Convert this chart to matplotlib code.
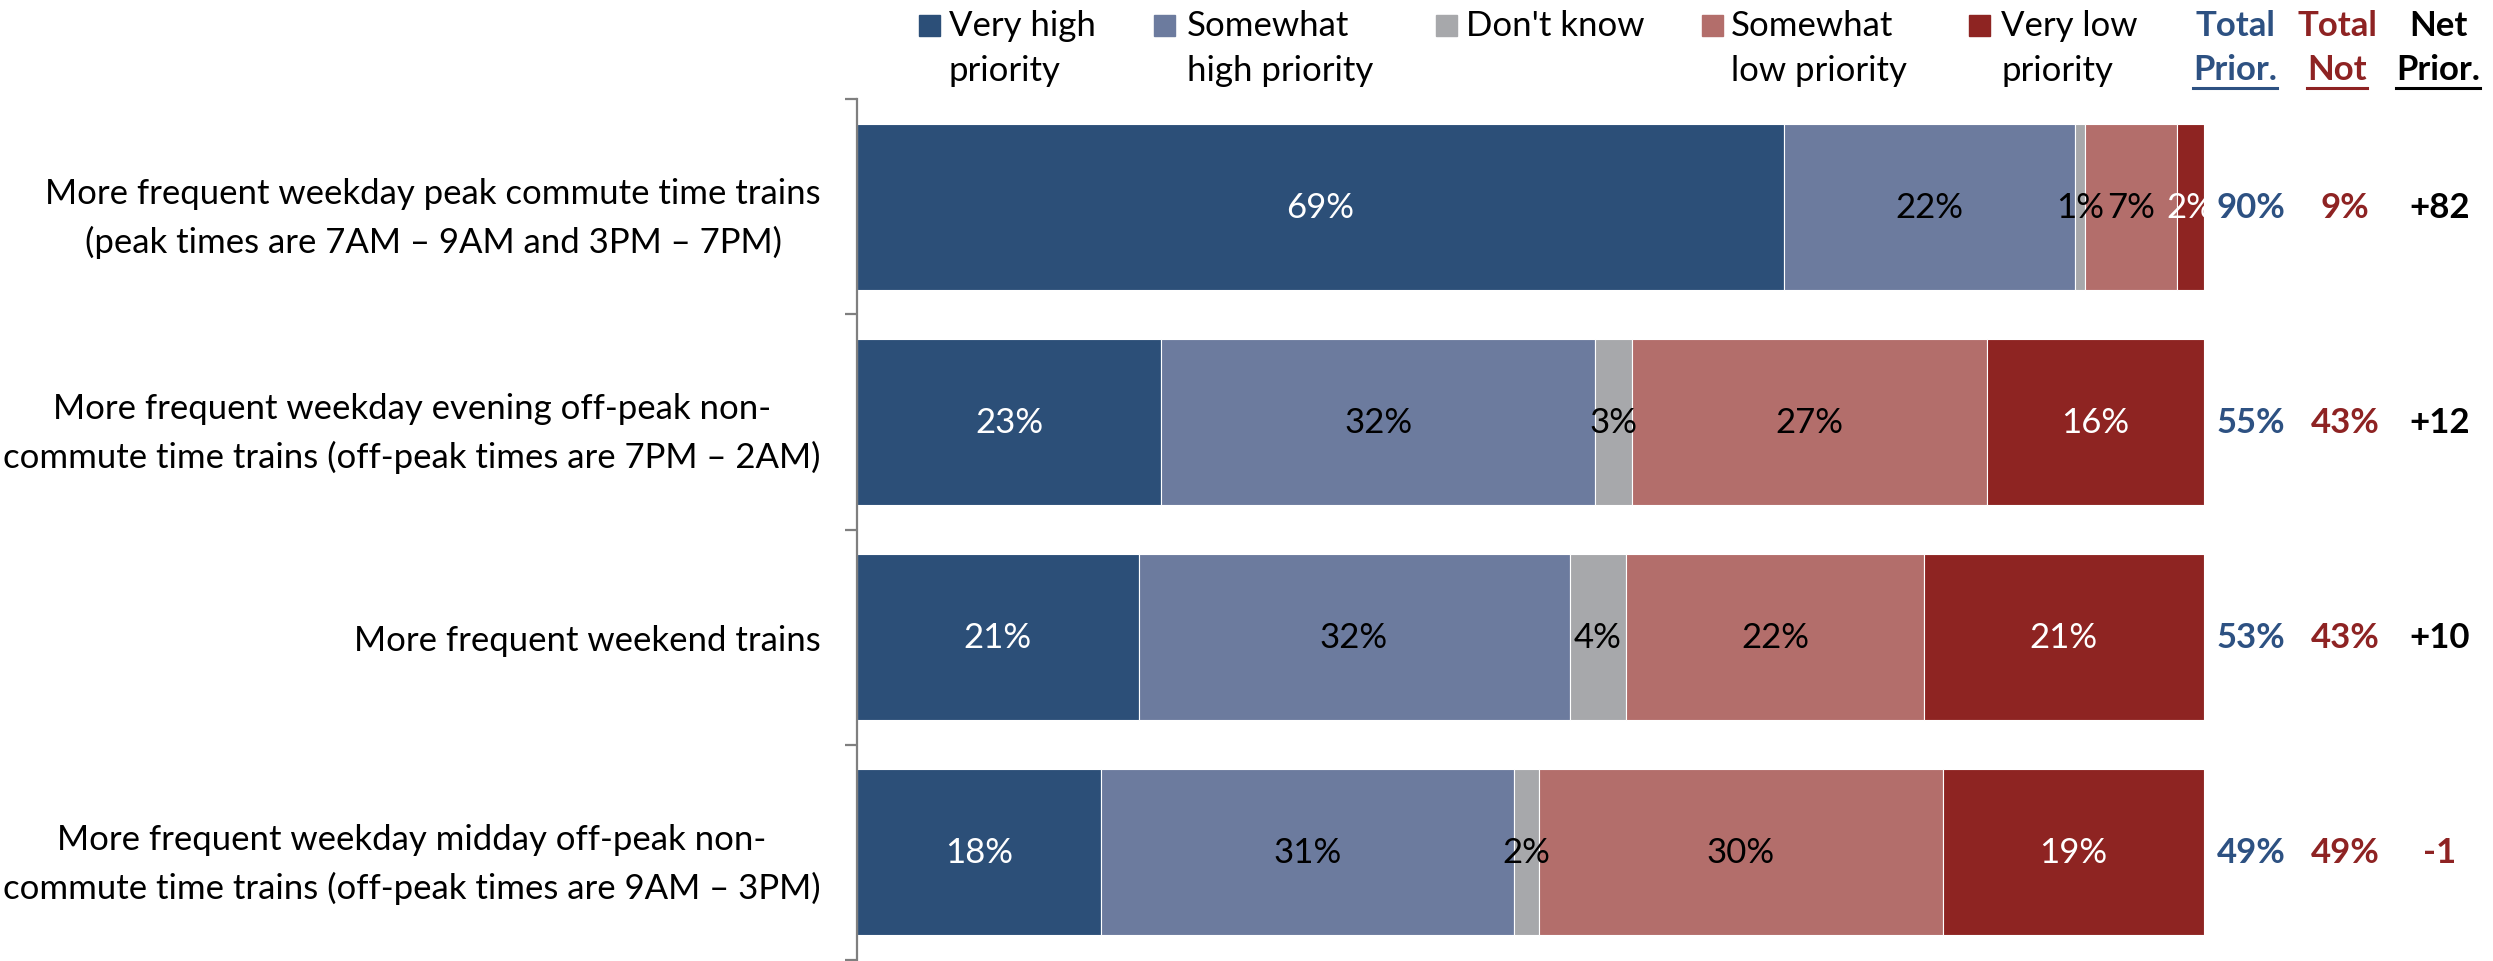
import matplotlib.pyplot as plt
from matplotlib.lines import Line2D
from matplotlib.patches import Rectangle

plt.rcParams['font.family'] = ['Lato', 'DejaVu Sans']

# --- data ---
categories = [
    "More frequent weekday peak commute time trains\n(peak times are 7AM \u2013 9AM and 3PM \u2013 7PM)",
    "More frequent weekday evening off-peak non-\ncommute time trains (off-peak times are 7PM \u2013 2AM)",
    "More frequent weekend trains",
    "More frequent weekday midday off-peak non-\ncommute time trains (off-peak times are 9AM \u2013 3PM)",
]
segment_names = ["Very high\npriority", "Somewhat\nhigh priority", "Don't know",
                 "Somewhat\nlow priority", "Very low\npriority"]
segment_colors = ["#2C4F78", "#6C7B9E", "#A7A8AB", "#B36E6B", "#8E2422"]
label_colors = ["white", "black", "black", "black", "white"]

# bar lengths (share of 100)
very_high = [68.8, 22.6, 20.9, 18.1]
somewhat_high = [21.6, 32.2, 32.0, 30.7]
dont_know = [0.8, 2.7, 4.2, 1.8]
somewhat_low = [6.8, 26.4, 22.1, 30.0]
very_low = [2.0, 16.1, 20.8, 19.4]

# printed labels
very_high_lbl = [69, 23, 21, 18]
somewhat_high_lbl = [22, 32, 32, 31]
dont_know_lbl = [1, 3, 4, 2]
somewhat_low_lbl = [7, 27, 22, 30]
very_low_lbl = [2, 16, 21, 19]

total_prior = [90, 55, 53, 49]
total_not = [9, 43, 43, 49]
net_prior = [82, 12, 10, -1]

BLUE = "#2D5182"
RED = "#8E2323"
FS = 25

W, H = 2493, 962
fig = plt.figure(figsize=(W / 100, H / 100), dpi=100)


def fx(x):
    return x / W


def fy(y):
    return 1 - y / H


ax = fig.add_axes([fx(857), fy(961), fx(2204) - fx(857), fy(100) - fy(961)])

values = [very_high, somewhat_high, dont_know, somewhat_low, very_low]
labels = [very_high_lbl, somewhat_high_lbl, dont_know_lbl, somewhat_low_lbl, very_low_lbl]
rows = range(len(categories))
left = [0.0] * len(categories)
for vals, lbls, col, tcol in zip(values, labels, segment_colors, label_colors):
    ax.barh(rows, vals, left=left, height=0.771, color=col, edgecolor="white", linewidth=0.8)
    for i in rows:
        ax.text(left[i] + vals[i] / 2, i, f"{lbls[i]}%", ha="center", va="center",
                color=tcol, fontsize=FS)
    left = [l + v for l, v in zip(left, vals)]

ax.set_xlim(0, 100)
ax.set_ylim(3.5, -0.5)
ax.set_xticks([])
for s in ["top", "right", "bottom"]:
    ax.spines[s].set_visible(False)
ax.spines["left"].set_color("#7F7F7F")
ax.spines["left"].set_linewidth(1.6)

ax.set_yticks(list(rows))
ax.set_yticklabels(categories, multialignment="center", fontsize=FS, linespacing=1.58)
ax.tick_params(axis="y", which="major", length=0, pad=26)
ax.set_yticks([-0.5, 0.5, 1.5, 2.5, 3.5], minor=True)
ax.tick_params(axis="y", which="minor", length=8.5, width=1.6, color="#7F7F7F")

# --- right-hand summary columns ---
for i in rows:
    y_fig = ax.transData.transform((0, i))[1] / H
    fig.text(fx(2251), y_fig, f"{total_prior[i]}%", ha="center", va="center",
             color=BLUE, fontsize=FS, fontweight="bold")
    fig.text(fx(2345), y_fig, f"{total_not[i]}%", ha="center", va="center",
             color=RED, fontsize=FS, fontweight="bold")
    fig.text(fx(2440), y_fig, f"{net_prior[i]:+d}", ha="center", va="center",
             color=RED if net_prior[i] < 0 else "black", fontsize=FS, fontweight="bold")

# --- legend ---
sq_left = [919, 1154, 1436, 1702, 1969]
txt_left = [949, 1187, 1466, 1731, 2001]
for name, col, sx, tx in zip(segment_names, segment_colors, sq_left, txt_left):
    fig.patches.append(Rectangle((fx(sx), fy(37)), fx(21), 21 / H, color=col,
                                 transform=fig.transFigure, figure=fig))
    for k, line in enumerate(name.split("\n")):
        fig.text(fx(tx), fy(36 + 45 * k), line, ha="left", va="baseline", fontsize=FS)

headers = [("Total", "Prior.", BLUE, 2235), ("Total", "Not", RED, 2337), ("Net", "Prior.", "black", 2438)]
under = []
for top, bottom, col, cx in headers:
    fig.text(fx(cx), fy(36), top, ha="center", va="baseline", fontsize=FS,
             fontweight="bold", color=col)
    t = fig.text(fx(cx), fy(80), bottom, ha="center", va="baseline", fontsize=FS,
                 fontweight="bold", color=col)
    under.append((t, col))

fig.canvas.draw()
for t, col in under:
    bb = t.get_window_extent()
    fig.lines.append(Line2D([bb.x0 / W, bb.x1 / W], [fy(89), fy(89)], color=col,
                            linewidth=2.2, transform=fig.transFigure))

fig.savefig("out.png", dpi=100)
